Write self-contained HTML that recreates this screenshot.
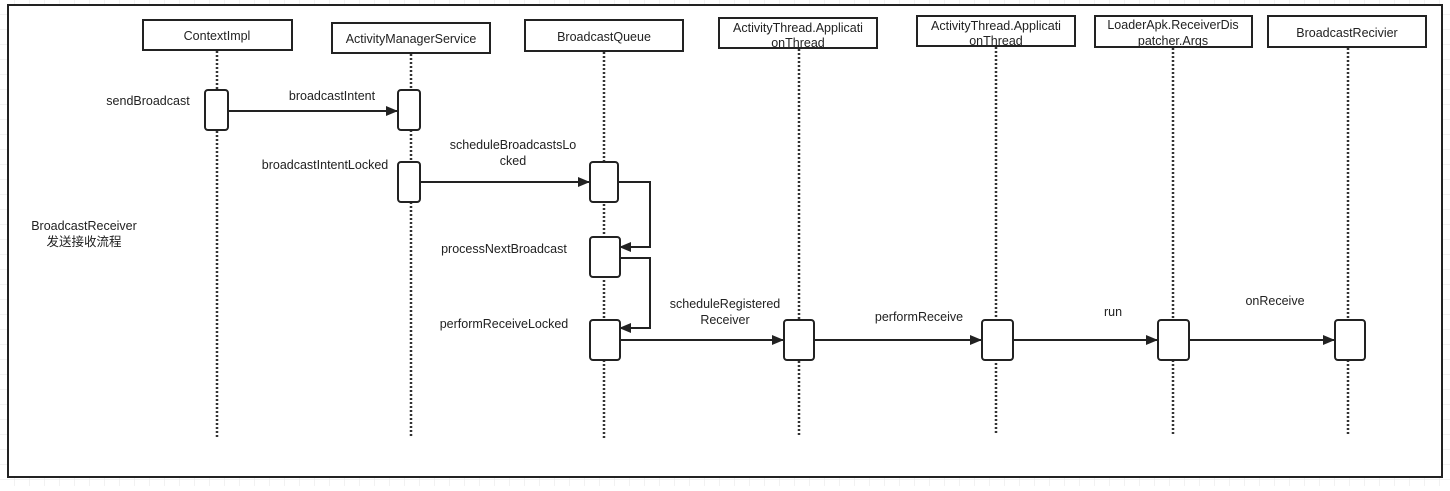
<!DOCTYPE html>
<html><head><meta charset="utf-8"><style>
html,body{margin:0;padding:0;background:#fff}
svg text{font-family:"Liberation Sans","Noto Sans CJK SC",sans-serif;font-size:12.5px;fill:#222}
</style></head><body>
<svg width="1450" height="486" xmlns="http://www.w3.org/2000/svg">
<defs>
<pattern id="g" width="15" height="15" patternUnits="userSpaceOnUse"><path d="M15 0V15M0 15H15" stroke="#e6e6e6" stroke-width="1" fill="none"/></pattern>
<marker id="a" markerWidth="12" markerHeight="10" refX="11" refY="5" orient="auto" markerUnits="userSpaceOnUse"><path d="M0 0L12 5L0 10Z" fill="#222"/></marker>
</defs>
<rect width="1450" height="486" fill="url(#g)"/>
<rect x="8" y="5" width="1434" height="472" fill="#fff" stroke="#222" stroke-width="2"/>
<g stroke="#222" stroke-width="2" fill="#fff">
<rect x="143" y="20" width="149" height="30"/>
<rect x="332" y="23" width="158" height="30"/>
<rect x="525" y="20" width="158" height="31"/>
<rect x="719" y="18" width="158" height="30"/>
<rect x="917" y="16" width="158" height="30"/>
<rect x="1095" y="16" width="157" height="31"/>
<rect x="1268" y="16" width="158" height="31"/>
</g>
<g stroke="#333" stroke-width="2.5" stroke-dasharray="2,2">
<line x1="217" y1="51" x2="217" y2="438"/>
<line x1="411" y1="54" x2="411" y2="438"/>
<line x1="604" y1="52" x2="604" y2="438"/>
<line x1="799" y1="49" x2="799" y2="436"/>
<line x1="996" y1="47" x2="996" y2="434"/>
<line x1="1173" y1="48" x2="1173" y2="434"/>
<line x1="1348" y1="48" x2="1348" y2="434"/>
</g>
<g stroke="#222" stroke-width="2" fill="none">
<line x1="228" y1="111" x2="397" y2="111" marker-end="url(#a)"/>
<line x1="420" y1="182" x2="589" y2="182" marker-end="url(#a)"/>
<polyline points="618,182 650,182 650,247 620,247" marker-end="url(#a)"/>
<polyline points="620,258 650,258 650,328 620,328" marker-end="url(#a)"/>
<line x1="619" y1="340" x2="783" y2="340" marker-end="url(#a)"/>
<line x1="814" y1="340" x2="981" y2="340" marker-end="url(#a)"/>
<line x1="1013" y1="340" x2="1157" y2="340" marker-end="url(#a)"/>
<line x1="1189" y1="340" x2="1334" y2="340" marker-end="url(#a)"/>
</g>
<g stroke="#222" stroke-width="2" fill="#fff">
<rect x="205" y="90" width="23" height="40" rx="3"/>
<rect x="398" y="90" width="22" height="40" rx="3"/>
<rect x="398" y="162" width="22" height="40" rx="3"/>
<rect x="590" y="162" width="28" height="40" rx="3"/>
<rect x="590" y="237" width="30" height="40" rx="3"/>
<rect x="590" y="320" width="30" height="40" rx="3"/>
<rect x="784" y="320" width="30" height="40" rx="3"/>
<rect x="982" y="320" width="31" height="40" rx="3"/>
<rect x="1158" y="320" width="31" height="40" rx="3"/>
<rect x="1335" y="320" width="30" height="40" rx="3"/>
</g>
<g text-anchor="middle">
<text x="217" y="40">ContextImpl</text>
<text x="411" y="43">ActivityManagerService</text>
<text x="604" y="41">BroadcastQueue</text>
<text x="798" y="32">ActivityThread.Applicati</text><text x="798" y="47">onThread</text>
<text x="996" y="30">ActivityThread.Applicati</text><text x="996" y="45">onThread</text>
<text x="1173" y="29">LoaderApk.ReceiverDis</text><text x="1173" y="45">patcher.Args</text>
<text x="1347" y="37">BroadcastRecivier</text>
<text x="148" y="105">sendBroadcast</text>
<text x="332" y="100">broadcastIntent</text>
<text x="325" y="169">broadcastIntentLocked</text>
<text x="513" y="149">scheduleBroadcastsLo</text><text x="513" y="165">cked</text>
<text x="84" y="230">BroadcastReceiver</text><text x="84" y="246">发送接收流程</text>
<text x="504" y="253">processNextBroadcast</text>
<text x="504" y="328">performReceiveLocked</text>
<text x="725" y="308">scheduleRegistered</text><text x="725" y="324">Receiver</text>
<text x="919" y="321">performReceive</text>
<text x="1113" y="316">run</text>
<text x="1275" y="305">onReceive</text>
</g>
</svg>
</body></html>
